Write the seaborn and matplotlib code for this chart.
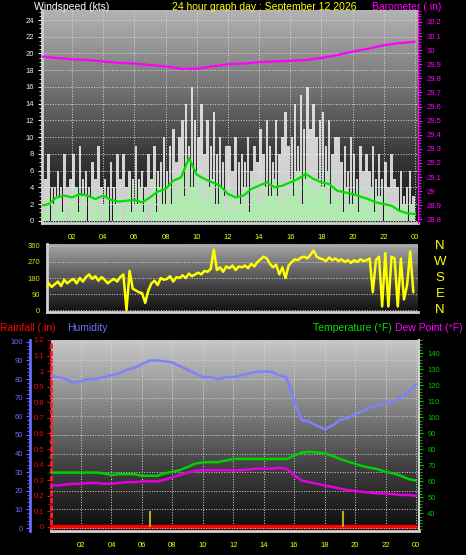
import numpy as np
import matplotlib
matplotlib.use('Agg')
import matplotlib.pyplot as plt
import matplotlib.transforms as mtransforms
import seaborn as sns
from matplotlib.colors import LinearSegmentedColormap
from matplotlib.ticker import MultipleLocator, FixedLocator, FuncFormatter

sns.set_style('dark')
plt.rcParams['font.family'] = ['Liberation Sans', 'DejaVu Sans']

# ---- data ----
# wind gusts / speed every 12 minutes (kts)
gust = [4, 5, 8, 4, 4, 6, 4, 8, 4, 5, 8, 4, 9, 5, 6, 4, 7, 5, 9, 4,
        5, 4, 7, 4, 8, 5, 8, 4, 6, 5, 9, 5, 6, 4, 8, 5, 9, 6, 7, 10,
        6, 9, 11, 7, 10, 12, 14, 9, 16, 12, 10, 14, 8, 12, 9, 13, 8, 10, 7, 9,
        9, 6, 10, 7, 8, 7, 10, 6, 9, 7, 11, 8, 12, 9, 7, 12, 8, 10, 13, 9,
        10, 14, 9, 15, 11, 16, 11, 14, 10, 12, 13, 9, 12, 8, 10, 10, 7, 9, 6, 10,
        8, 5, 9, 6, 8, 6, 9, 5, 8, 5, 7, 4, 8, 5, 4, 6, 3, 4, 6, 3]
speed = [2, 1, 3, 0, 2, 3, 1, 2, 0, 3, 2, 4, 1, 3, 0, 3, 1, 4, 2, 0,
         2, 3, 0, 2, 1, 3, 0, 2, 4, 1, 2, 4, 1, 3, 0, 3, 5, 1, 4, 2,
         4, 2, 5, 3, 5, 6, 3, 7, 4, 6, 5, 3, 6, 2, 4, 5, 2, 4, 3, 1,
         3, 4, 1, 3, 2, 4, 1, 3, 5, 2, 5, 2, 4, 3, 5, 3, 5, 2, 4, 3,
         5, 3, 6, 2, 5, 6, 4, 5, 3, 5, 4, 6, 2, 5, 3, 3, 4, 1, 4, 2,
         3, 1, 4, 2, 3, 2, 4, 1, 3, 0, 3, 1, 2, 0, 2, 1, 2, 0, 2, 1]
# 10 minute average wind, every half hour
avg_wind = [1.8, 2.0, 2.8, 3.0, 2.8, 3.2, 3.0, 2.6, 3.0, 2.5, 2.3, 2.4, 2.5, 2.2,
            2.8, 3.5, 3.8, 4.8, 5.2, 7.5, 5.5, 5.0, 4.6, 4.2, 3.2, 2.8, 3.0, 3.8,
            4.2, 4.6, 4.0, 4.2, 4.6, 5.0, 5.6, 5.0, 4.6, 4.4, 3.6, 3.4, 3.2, 2.9,
            2.6, 2.2, 2.0, 1.8, 1.2, 0.9, 0.8]
# barometer every hour (inHg)
baro = [29.955, 29.945, 29.935, 29.93, 29.92, 29.91, 29.905, 29.895, 29.885,
        29.868, 29.868, 29.885, 29.9, 29.905, 29.915, 29.92, 29.925, 29.93,
        29.945, 29.965, 29.99, 30.01, 30.035, 30.05, 30.06]
# wind direction every 12 minutes (degrees)
direction = [140, 120, 150, 130, 145, 160, 135, 170, 150, 165,
             175, 150, 180, 160, 185, 200, 175, 190, 165, 185,
             170, 150, 165, 175, 160, 185, 200, 0, 220, 120,
             110, 100, 95, 40, 110, 150, 165, 140, 180, 170,
             175, 190, 160, 185, 180, 195, 180, 205, 190, 200,
             210, 200, 220, 215, 230, 340, 225, 240, 215, 245,
             235, 250, 225, 245, 240, 250, 235, 260, 245, 270,
             285, 300, 290, 260, 240, 255, 200, 240, 180, 250,
             270, 285, 280, 295, 300, 290, 310, 335, 300, 290,
             285, 275, 295, 280, 290, 275, 285, 270, 280, 265,
             280, 270, 285, 275, 280, 290, 100, 280, 300, 20,
             320, 20, 300, 290, 20, 290, 60, 140, 330, 100]
# humidity (%), temperature and dew point (F) every half hour
humidity = [82, 81, 80, 78, 79, 80, 80, 81, 82, 83, 85, 86, 88, 90, 90, 89.5,
            89, 87, 85, 83, 81, 81, 80, 81, 81, 82, 83, 84, 84, 84, 82, 81,
            68, 58, 57, 55, 53, 55, 58, 59, 61, 63, 65, 66, 67, 68, 70, 73, 77]
temperature = [65.5, 65.5, 65.5, 65.5, 65.5, 65.5, 65.5, 65, 64, 64.5, 64.5, 64.5,
               63.5, 63.5, 63.5, 65, 66, 67, 69, 71, 72, 72, 72, 73, 74, 74, 74,
               74, 74, 74, 74, 74, 76, 78, 78.5, 78, 77.5, 76, 74, 72.5, 71, 69.5,
               68.5, 67.5, 66, 65, 63.5, 61.5, 60.5]
dew_point = [57.5, 57.5, 58, 58.5, 58.5, 59, 59, 58.5, 58.5, 59, 59.5, 59.5, 60,
             60, 60, 61, 62.5, 64, 65.5, 66.5, 67, 67, 67, 67, 67, 67, 67.5, 68,
             68, 68, 68.5, 68, 64, 60.5, 59.5, 58.5, 57.5, 56.5, 55.5, 54.5, 54,
             53.5, 53, 52.5, 52.5, 52, 51.5, 51.5, 51]
rainfall = [0.0] * 25
marker_hours = [6.5, 19.2]
marker_height = [0.1, 0.1]

t_wind = np.arange(len(gust)) * 0.2 + 0.1
t_half = np.arange(len(humidity)) * 0.5
t_hour = np.arange(len(baro))
hour_ticks = list(range(2, 25, 2))
hour_labels = ['%02d' % (h % 24) for h in hour_ticks]

W, H = 466, 555
TICK = 5.5


def shade(ax, colors):
    cmap = LinearSegmentedColormap.from_list('bg', colors)
    ax.imshow(np.linspace(0, 1, 256).reshape(-1, 1), cmap=cmap, aspect='auto',
              extent=[0, 1, 0, 1], transform=ax.transAxes, origin='lower', zorder=0)


def box(x0, y0, x1, y1):
    return [x0 / W, 1 - y1 / H, (x1 - x0) / W, (y1 - y0) / H]


fig = plt.figure(figsize=(W / 100, H / 100), dpi=100, facecolor='black')

# ---- wind panel ----
ax1 = fig.add_axes(box(42, 10, 418, 223.3))
ax1.set_facecolor('black')
shade(ax1, ['#141414', '#3a3a3a', '#7a7a7a', '#b4b4b4'])
gust_top = np.array(gust) - np.array(speed)
ax1.bar(t_wind, gust_top, bottom=speed, width=0.16, color='#f0f0f0', alpha=0.85,
        zorder=2, linewidth=0, antialiased=False)
ax1.bar(t_wind, speed, width=0.2, color='#b0eab0', zorder=3, linewidth=0,
        antialiased=False)
sns.lineplot(x=t_half, y=avg_wind, ax=ax1, color='#00e000', lw=1.6, zorder=4)
ax1.set_xlim(0.07, 24.2)
ax1.set_ylim(-0.3, 25.2)
ax1.yaxis.set_major_locator(FixedLocator(range(0, 25, 2)))
ax1.yaxis.set_minor_locator(MultipleLocator(0.5))
ax1.xaxis.set_major_locator(FixedLocator(hour_ticks))
ax1.xaxis.set_minor_locator(MultipleLocator(0.5))
ax1.set_xticklabels(hour_labels)
ax1.grid(True, which='major', color='#d8d8d8', ls=':', lw=0.7)
ax1.set_axisbelow(True)
ax1.tick_params(axis='y', which='both', colors='#e8eeff', labelsize=TICK, length=3, pad=3)
ax1.tick_params(axis='y', which='minor', length=2, color='#e0e0e0')
ax1.tick_params(axis='x', which='both', colors='#909090', labelcolor='#ffff00',
                labelsize=TICK, length=2, pad=6)
for s in ['left', 'bottom']:
    ax1.spines[s].set_color('#d0d0d0')
    ax1.spines[s].set_linewidth(2)
ax1.spines['top'].set_visible(False)
ax1.spines['right'].set_visible(False)
ax1.set_xlabel('')
ax1.set_ylabel('')

ax1b = ax1.twinx()
sns.lineplot(x=t_hour, y=baro, ax=ax1b, color='#ff00ff', lw=1.6)
ax1b.set_ylim(28.772, 30.285)
ax1b.yaxis.set_major_locator(FixedLocator(np.round(np.arange(28.8, 30.21, 0.1), 1)))
ax1b.yaxis.set_major_formatter(FuncFormatter(lambda v, p: f'{v:g}'))
ax1b.yaxis.set_minor_locator(MultipleLocator(0.02))
ax1b.tick_params(axis='y', which='both', colors='#ff00ff', labelsize=TICK, length=3, pad=3)
ax1b.tick_params(axis='y', which='minor', length=2)
for s in ['top', 'left', 'bottom']:
    ax1b.spines[s].set_visible(False)
ax1b.spines['right'].set_color('#ff00ff')
ax1b.set_ylabel('')

# ---- wind direction panel ----
ax2 = fig.add_axes(box(47, 244, 418, 312))
ax2.set_facecolor('black')
shade(ax2, ['#101010', '#3c3c3c', '#6e6e6e', '#a8a8a8'])
sns.lineplot(x=t_wind, y=direction, ax=ax2, color='#ffff00', lw=1.8, zorder=3)
ax2.set_xlim(0.4, 24.2)
ax2.set_ylim(-11, 371)
ax2.yaxis.set_major_locator(FixedLocator([0, 90, 180, 270, 360]))
ax2.yaxis.set_minor_locator(MultipleLocator(30))
ax2.set_xticks([])
ax2.grid(True, axis='y', color='#d0d0d0', ls=':', lw=0.7)
ax2.set_axisbelow(True)
ax2.tick_params(axis='y', which='both', colors='#c8c800', labelcolor='#e0e000',
                labelsize=TICK, length=3, pad=2)
for s in ['left', 'bottom']:
    ax2.spines[s].set_color('#d0d0d0')
    ax2.spines[s].set_linewidth(2)
ax2.spines['top'].set_visible(False)
ax2.spines['right'].set_visible(False)
ax2.set_ylabel('')
compass = mtransforms.blended_transform_factory(fig.transFigure, ax2.transData)
for letter, deg in zip(['N', 'W', 'S', 'E', 'N'], [360, 270, 180, 90, 0]):
    ax2.text(440 / W, deg, letter, transform=compass, color='#ffff00',
             fontsize=9.5, ha='center', va='center')

# ---- humidity / temperature / rain panel ----
ax3 = fig.add_axes(box(51, 340, 419, 531))
ax3.set_facecolor('black')
shade(ax3, ['#0c0c0c', '#404040', '#888888', '#c8c8c8'])
sns.lineplot(x=t_hour, y=rainfall, ax=ax3, color='#ff0000', lw=3, zorder=3)
ax3.vlines(marker_hours, 0, marker_height, color='#b8a820', lw=1.5, zorder=3)
ax3.set_xlim(0.03, 24.2)
ax3.set_ylim(-0.026, 1.2)
ax3.yaxis.set_major_locator(FixedLocator(np.round(np.arange(0, 1.21, 0.1), 1)))
ax3.yaxis.set_major_formatter(FuncFormatter(lambda v, p: f'{v:g}'))
ax3.yaxis.set_minor_locator(MultipleLocator(0.05))
ax3.xaxis.set_major_locator(FixedLocator(hour_ticks))
ax3.xaxis.set_minor_locator(MultipleLocator(0.5))
ax3.set_xticklabels(hour_labels)
ax3.grid(True, axis='x', color='#d8d8d8', ls=':', lw=0.7)
ax3.set_axisbelow(True)
ax3.tick_params(axis='y', which='both', colors='#ff0000', labelsize=TICK, length=3, pad=2)
ax3.tick_params(axis='y', which='minor', length=2)
ax3.tick_params(axis='x', which='both', colors='#909090', labelcolor='#ffff00',
                labelsize=TICK, length=2, pad=6)
ax3.spines['left'].set_color('#ff2020')
ax3.spines['left'].set_linestyle(':')
ax3.spines['left'].set_linewidth(2)
ax3.spines['bottom'].set_color('#d0d0d0')
ax3.spines['bottom'].set_linewidth(2)
ax3.spines['top'].set_visible(False)
ax3.spines['right'].set_visible(False)
ax3.set_ylabel('')

axh = ax3.twinx()
sns.lineplot(x=t_half, y=humidity, ax=axh, color='#8080ff', lw=1.8)
axh.set_ylim(-1.6, 101)
axh.yaxis.tick_left()
axh.spines['left'].set_position(('outward', 21 * 0.72))
axh.spines['left'].set_color('#6a6aff')
axh.spines['left'].set_linewidth(2)
axh.yaxis.set_major_locator(FixedLocator(range(0, 101, 10)))
axh.yaxis.set_minor_locator(MultipleLocator(2))
axh.grid(True, axis='y', color='#d0d0d0', ls=':', lw=0.7)
axh.tick_params(axis='y', which='both', colors='#6a6aff', labelsize=TICK, length=3, pad=2)
axh.tick_params(axis='y', which='minor', length=2)
for s in ['top', 'right', 'bottom']:
    axh.spines[s].set_visible(False)
axh.set_ylabel('')

axt = ax3.twinx()
sns.lineplot(x=t_half, y=temperature, ax=axt, color='#00d000', lw=1.8)
sns.lineplot(x=t_half, y=dew_point, ax=axt, color='#e000e0', lw=1.8)
axt.set_ylim(29, 148.3)
axt.yaxis.set_major_locator(FixedLocator(range(40, 141, 10)))
axt.yaxis.set_minor_locator(MultipleLocator(2))
axt.tick_params(axis='y', which='both', colors='#00c000', labelsize=TICK, length=3, pad=3)
axt.tick_params(axis='y', which='minor', length=2)
for s in ['top', 'left', 'bottom']:
    axt.spines[s].set_visible(False)
axt.spines['right'].set_color('#d0d0d0')
axt.spines['right'].set_linewidth(1.5)
axt.set_ylabel('')

# ---- header texts ----
FS = 7.5


def top(y):
    return 1 - y / H


fig.text(34 / W, top(9.5), 'Windspeed (kts)', color='white', fontsize=FS, va='baseline')
fig.text(172 / W, top(9.5), '24 hour graph day : September 12 2026', color='#ffff00',
         fontsize=FS, va='baseline')
fig.text(372 / W, top(9.5), 'Barometer (.in)', color='#ff00ff', fontsize=FS, va='baseline')
fig.text(0, top(331), 'Rainfall (.in)', color='#ff0000', fontsize=FS, va='baseline')
fig.text(67 / W, top(331), 'Humidity', color='#7070ff', fontsize=FS, va='baseline')
fig.text(313 / W, top(331), 'Temperature (°F)', color='#00e000', fontsize=FS, va='baseline')
fig.text(395 / W, top(331), 'Dew Point (°F)', color='#ff00ff', fontsize=FS, va='baseline')

fig.savefig('out.png', dpi=100, facecolor='black')
